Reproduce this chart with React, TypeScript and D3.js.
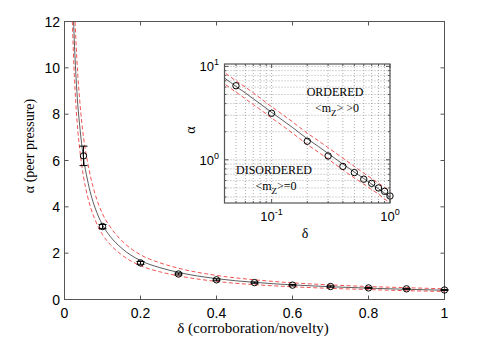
import React from 'react';
import * as d3 from 'd3';

// measured points (delta, alpha) with error bars
const deltaPts = [0.05, 0.1, 0.2, 0.3, 0.4, 0.5, 0.6, 0.7, 0.8, 0.9, 1.0];
const alphaPts = [6.2, 3.15, 1.58, 1.1, 0.85, 0.73, 0.62, 0.56, 0.5, 0.46, 0.41];
const alphaErr = [0.42, 0.09, 0.06, 0.04, 0.04, 0.03, 0.03, 0.03, 0.02, 0.02, 0.02];

// fitted curve and its dashed bounds
const fitDelta = [0.02, 0.025, 0.03, 0.035, 0.04, 0.05, 0.06, 0.07, 0.08, 0.1, 0.12, 0.15, 0.2, 0.25, 0.3, 0.4, 0.5, 0.6, 0.7, 0.8, 0.9, 1.0];
const fitAlpha = [14.1, 11.5, 9.7, 8.4, 7.5, 6.1, 5.2, 4.5, 3.98, 3.22, 2.73, 2.22, 1.68, 1.38, 1.17, 0.9, 0.74, 0.63, 0.55, 0.49, 0.44, 0.4];
const fitUpper = [16.2, 13.2, 11.2, 9.7, 8.6, 7.0, 6.0, 5.2, 4.58, 3.7, 3.14, 2.55, 1.93, 1.59, 1.35, 1.04, 0.85, 0.72, 0.63, 0.56, 0.51, 0.46];
const fitLower = [12.3, 10.0, 8.4, 7.3, 6.5, 5.3, 4.5, 3.9, 3.46, 2.8, 2.38, 1.93, 1.46, 1.2, 1.02, 0.78, 0.64, 0.55, 0.48, 0.43, 0.38, 0.35];

const xTicks = [0, 0.2, 0.4, 0.6, 0.8, 1];
const yTicks = [0, 2, 4, 6, 8, 10, 12];
const insetXGrid = [0.04, 0.05, 0.06, 0.07, 0.08, 0.09, 0.1, 0.2, 0.3, 0.4, 0.5, 0.6, 0.7, 0.8, 0.9, 1];
const insetYGrid = [0.4, 0.5, 0.6, 0.7, 0.8, 0.9, 1, 2, 3, 4, 5, 6, 7, 8, 9, 10];
const insetXMajor = [{ v: 0.1, e: '-1' }, { v: 1, e: '0' }];
const insetYMajor = [{ v: 1, e: '0' }, { v: 10, e: '1' }];

const W = 491;
const H = 342;
const sans = 'Liberation Sans, Arial, sans-serif';
const serif = 'Liberation Serif, Times New Roman, serif';
const axisCol = '#555';

export default function App() {
  const x = d3.scaleLinear().domain([0, 1]).range([64.5, 444.5]);
  const y = d3.scaleLinear().domain([0, 12]).range([299.5, 21.5]);

  const ix = d3.scaleLog().domain([0.04, 1]).range([224.5, 390]);
  const iy = d3.scaleLog().domain([0.345, 10.6]).range([203, 64]);

  const mainLine = (vals: number[]) =>
    d3.line<number>().x((_, i) => x(fitDelta[i])).y(d => y(d)).curve(d3.curveMonotoneX)(vals) || '';
  const insetLine = (vals: number[]) =>
    d3.line<number>().x((_, i) => ix(fitDelta[i])).y(d => iy(d)).curve(d3.curveMonotoneX)(vals) || '';

  const tk = 4;
  const cap = 4;

  return (
    <svg width={W} height={H} style={{ position: 'absolute', left: 0, top: 0, background: '#fff' }}>
      <defs>
        <clipPath id="mainClip">
          <rect x={x(0)} y={y(12)} width={x(1) - x(0)} height={y(0) - y(12)} />
        </clipPath>
        <clipPath id="insetClip">
          <rect x={ix(0.04)} y={iy(10.6)} width={ix(1) - ix(0.04)} height={iy(0.345) - iy(10.6)} />
        </clipPath>
      </defs>

      {/* main axes box and ticks */}
      <rect x={x(0)} y={y(12)} width={x(1) - x(0)} height={y(0) - y(12)} fill="none" stroke={axisCol} strokeWidth={1} />
      {xTicks.map(t => (
        <g key={'xt' + t}>
          <line x1={x(t)} x2={x(t)} y1={y(0)} y2={y(0) - tk} stroke={axisCol} />
          <line x1={x(t)} x2={x(t)} y1={y(12)} y2={y(12) + tk} stroke={axisCol} />
          <text x={x(t)} y={318} textAnchor="middle" fontFamily={sans} fontSize={14}>{t}</text>
        </g>
      ))}
      {yTicks.map(t => (
        <g key={'yt' + t}>
          <line x1={x(0)} x2={x(0) + tk} y1={y(t)} y2={y(t)} stroke={axisCol} />
          <line x1={x(1)} x2={x(1) - tk} y1={y(t)} y2={y(t)} stroke={axisCol} />
          <text x={60} y={y(t) + 5} textAnchor="end" fontFamily={sans} fontSize={14}>{t}</text>
        </g>
      ))}
      <text x={253} y={333} textAnchor="middle" fontFamily={serif} fontSize={15}>δ (corroboration/novelty)</text>
      <text transform="translate(34,146) rotate(-90)" textAnchor="middle" fontFamily={serif} fontSize={14}>α (peer pressure)</text>

      {/* main curves */}
      <g clipPath="url(#mainClip)" fill="none">
        <path d={mainLine(fitUpper)} stroke="#f04040" strokeWidth={0.9} strokeDasharray="4,2.5" />
        <path d={mainLine(fitLower)} stroke="#f04040" strokeWidth={0.9} strokeDasharray="4,2.5" />
        <path d={mainLine(fitAlpha)} stroke="#333" strokeWidth={0.8} />
      </g>
      {deltaPts.map((d, i) => (
        <g key={'pt' + d} stroke="#000" fill="none" strokeWidth={1}>
          <line x1={x(d)} x2={x(d)} y1={y(alphaPts[i] - alphaErr[i])} y2={y(alphaPts[i] + alphaErr[i])} />
          <line x1={x(d) - cap} x2={x(d) + cap} y1={y(alphaPts[i] - alphaErr[i])} y2={y(alphaPts[i] - alphaErr[i])} />
          <line x1={x(d) - cap} x2={x(d) + cap} y1={y(alphaPts[i] + alphaErr[i])} y2={y(alphaPts[i] + alphaErr[i])} />
          <circle cx={x(d)} cy={y(alphaPts[i])} r={3.2} />
        </g>
      ))}

      {/* inset */}
      <rect x={ix(0.04)} y={iy(10.6)} width={ix(1) - ix(0.04)} height={iy(0.345) - iy(10.6)} fill="#fff" />
      {insetXGrid.map(g => (
        <line key={'ixg' + g} x1={ix(g)} x2={ix(g)} y1={iy(10.6)} y2={iy(0.345)} stroke="#888" strokeWidth={0.7} strokeDasharray="1,2" />
      ))}
      {insetYGrid.map(g => (
        <line key={'iyg' + g} x1={ix(0.04)} x2={ix(1)} y1={iy(g)} y2={iy(g)} stroke="#888" strokeWidth={0.7} strokeDasharray="1,2" />
      ))}
      {insetXGrid.map(g => {
        const L = insetXMajor.some(m => m.v === g) ? 4 : 2;
        return (
          <g key={'ixt' + g}>
            <line x1={ix(g)} x2={ix(g)} y1={iy(0.345)} y2={iy(0.345) - L} stroke={axisCol} />
            <line x1={ix(g)} x2={ix(g)} y1={iy(10.6)} y2={iy(10.6) + L} stroke={axisCol} />
          </g>
        );
      })}
      {insetYGrid.map(g => {
        const L = insetYMajor.some(m => m.v === g) ? 4 : 2;
        return (
          <g key={'iyt' + g}>
            <line x1={ix(0.04)} x2={ix(0.04) + L} y1={iy(g)} y2={iy(g)} stroke={axisCol} />
            <line x1={ix(1)} x2={ix(1) - L} y1={iy(g)} y2={iy(g)} stroke={axisCol} />
          </g>
        );
      })}
      <g clipPath="url(#insetClip)" fill="none">
        <path d={insetLine(fitUpper)} stroke="#f04040" strokeWidth={0.9} strokeDasharray="4,2.5" />
        <path d={insetLine(fitLower)} stroke="#f04040" strokeWidth={0.9} strokeDasharray="4,2.5" />
        <path d={insetLine(fitAlpha)} stroke="#333" strokeWidth={0.8} />
      </g>
      {deltaPts.map((d, i) => (
        <circle key={'ipt' + d} cx={ix(d)} cy={iy(alphaPts[i])} r={3.2} fill="none" stroke="#000" strokeWidth={1} />
      ))}
      <rect x={ix(0.04)} y={iy(10.6)} width={ix(1) - ix(0.04)} height={iy(0.345) - iy(10.6)} fill="none" stroke={axisCol} strokeWidth={1.2} />
      {insetXMajor.map(m => (
        <text key={'ixl' + m.v} x={ix(m.v)} y={221} textAnchor="middle" fontFamily={sans} fontSize={13}>
          10<tspan dy={-6} fontSize={9}>{m.e}</tspan>
        </text>
      ))}
      {insetYMajor.map(m => (
        <text key={'iyl' + m.v} x={219} y={iy(m.v) + 5} textAnchor="end" fontFamily={sans} fontSize={13}>
          10<tspan dy={-6} fontSize={9}>{m.e}</tspan>
        </text>
      ))}
      <text x={305} y={238} textAnchor="middle" fontFamily={serif} fontSize={14}>δ</text>
      <text transform="translate(195,130) rotate(-90)" textAnchor="middle" fontFamily={serif} fontSize={14}>α</text>
      <text x={335} y={96} textAnchor="middle" fontFamily={serif} fontSize={12}>ORDERED</text>
      <text x={337} y={112} textAnchor="middle" fontFamily={serif} fontSize={12}>
        &lt;m<tspan dy={4} fontSize={9}>Z</tspan><tspan dy={-4}>&gt; &gt;0</tspan>
      </text>
      <text x={274} y={174} textAnchor="middle" fontFamily={serif} fontSize={12}>DISORDERED</text>
      <text x={276} y={190} textAnchor="middle" fontFamily={serif} fontSize={12}>
        &lt;m<tspan dy={4} fontSize={9}>Z</tspan><tspan dy={-4}>&gt;=0</tspan>
      </text>
    </svg>
  );
}
